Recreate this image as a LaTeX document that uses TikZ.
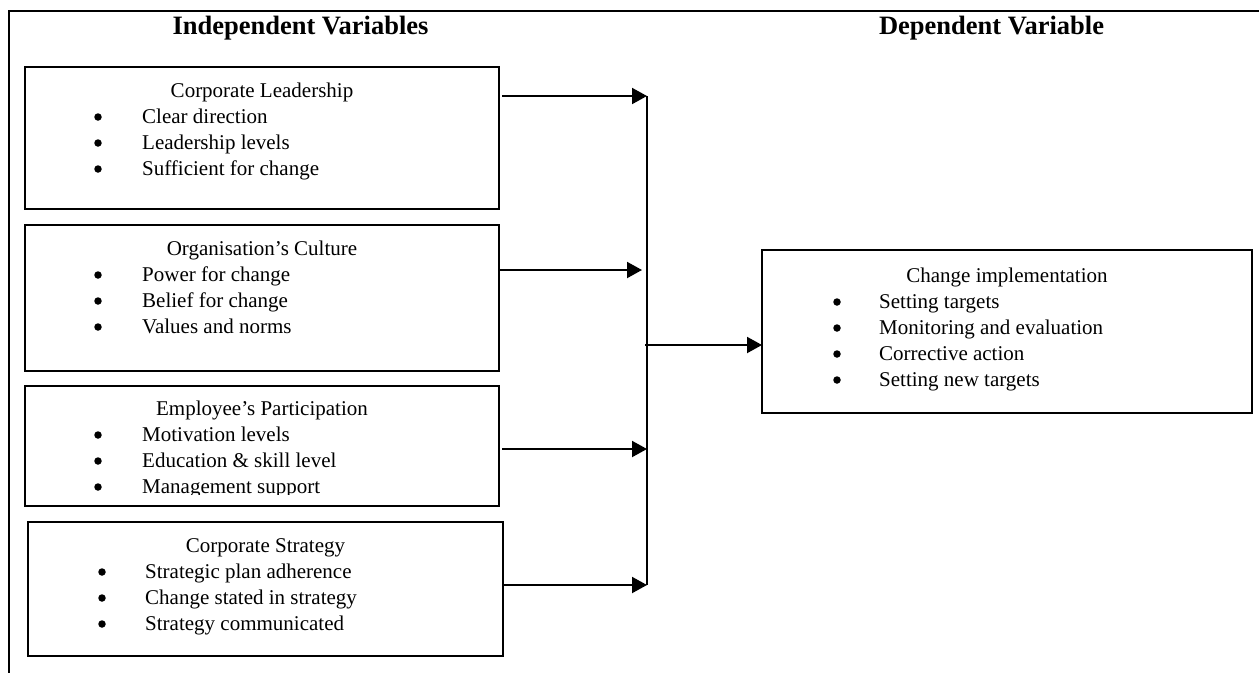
\documentclass[tikz,border=0pt]{standalone}
\usepackage{fontspec}
\setmainfont{Liberation Serif}
\usetikzlibrary{arrows.meta}
\begin{document}
\begin{tikzpicture}[x=1pt,y=-1pt,
  box/.style={draw, line width=1.8pt, inner sep=0pt, outer sep=0pt, anchor=north west},
  txt/.style={inner sep=0pt, anchor=base, font=\fontsize{21}{26}\selectfont},
  item/.style={inner sep=0pt, anchor=base west, font=\fontsize{21}{26}\selectfont},
  dot/.style={circle, fill=black, inner sep=0pt, minimum size=7.5pt, yshift=6pt},
  head/.style={inner sep=0pt, anchor=base, font=\fontsize{26.5}{30}\selectfont\bfseries},
  conn/.style={line width=2pt, -{Triangle[length=15pt,width=16pt]}},
  frame/.style={line width=2pt}]
\useasboundingbox (0,0) rectangle (1259,673);

% outer frame
\coordinate (ftr) at (1259,11);
\coordinate (ftl) at (9,11);
\coordinate (fbl) at (9,673);
\draw[frame] (ftr) -- (ftl) -- (fbl);

% headings
\node[head] (h1) at (300.5,34) {Independent Variables};
\node[head] (h2) at (991.5,34) {Dependent Variable};

% box 1
\node[box, minimum width=474pt, minimum height=142pt] (b1) at (25,67) {};
\node[txt] (b1t) at (262,97) {Corporate Leadership};
\node[dot] (b1d1) at (98,123) {};
\node[item] (b1i1) at (142,123) {Clear direction};
\node[dot] (b1d2) at (98,149) {};
\node[item] (b1i2) at (142,149) {Leadership levels};
\node[dot] (b1d3) at (98,175) {};
\node[item] (b1i3) at (142,175) {Sufficient for change};

% box 2
\node[box, minimum width=474pt, minimum height=146pt] (b2) at (25,225) {};
\node[txt] (b2t) at (262,255) {Organisation’s Culture};
\node[dot] (b2d1) at (98,281) {};
\node[item] (b2i1) at (142,281) {Power for change};
\node[dot] (b2d2) at (98,307) {};
\node[item] (b2i2) at (142,307) {Belief for change};
\node[dot] (b2d3) at (98,333) {};
\node[item] (b2i3) at (142,333) {Values and norms};

% box 3
\node[box, minimum width=474pt, minimum height=120pt] (b3) at (25,386) {};
\node[txt] (b3t) at (262,415) {Employee’s Participation};
\node[dot] (b3d1) at (98,441) {};
\node[item] (b3i1) at (142,441) {Motivation levels};
\node[dot] (b3d2) at (98,467) {};
\node[item] (b3i2) at (142,467) {Education \& skill level};
\node[dot] (b3d3) at (98,493) {};
\begin{scope}
  \clip (120,470) rectangle (498,494.5);
  \node[item] (b3i3) at (142,493) {Management support};
\end{scope}

% box 4
\node[box, minimum width=475pt, minimum height=134pt] (b4) at (28,522) {};
\node[txt] (b4t) at (265.5,552) {Corporate Strategy};
\node[dot] (b4d1) at (102,578) {};
\node[item] (b4i1) at (145,578) {Strategic plan adherence};
\node[dot] (b4d2) at (102,604) {};
\node[item] (b4i2) at (145,604) {Change stated in strategy};
\node[dot] (b4d3) at (102,630) {};
\node[item] (b4i3) at (145,630) {Strategy communicated};

% dependent box
\node[box, minimum width=490pt, minimum height=163pt] (dv) at (762,250) {};
\node[txt] (dvt) at (1007,282) {Change implementation};
\node[dot] (dvd1) at (837,308) {};
\node[item] (dvi1) at (879,308) {Setting targets};
\node[dot] (dvd2) at (837,334) {};
\node[item] (dvi2) at (879,334) {Monitoring and evaluation};
\node[dot] (dvd3) at (837,360) {};
\node[item] (dvi3) at (879,360) {Corrective action};
\node[dot] (dvd4) at (837,386) {};
\node[item] (dvi4) at (879,386) {Setting new targets};

% bus
\coordinate (bus1) at (647,96);
\coordinate (bus2) at (642,270);
\coordinate (busm) at (645,345);
\coordinate (bus3) at (647,449);
\coordinate (bus4) at (647,585);
\coordinate (bustop) at (647,96);
\coordinate (busbot) at (647,585);
\draw[line width=2pt] (bustop) -- (busbot);

% connectors
\draw[conn] ([xshift=3pt]b1.east |- bus1) -- (bus1);
\draw[conn] (b2.east |- bus2) -- (bus2);
\draw[conn] ([xshift=3pt]b3.east |- bus3) -- (bus3);
\draw[conn] (b4.east |- bus4) -- (bus4);
\draw[conn] (busm) -- (dv.west |- busm);
\end{tikzpicture}
\end{document}
